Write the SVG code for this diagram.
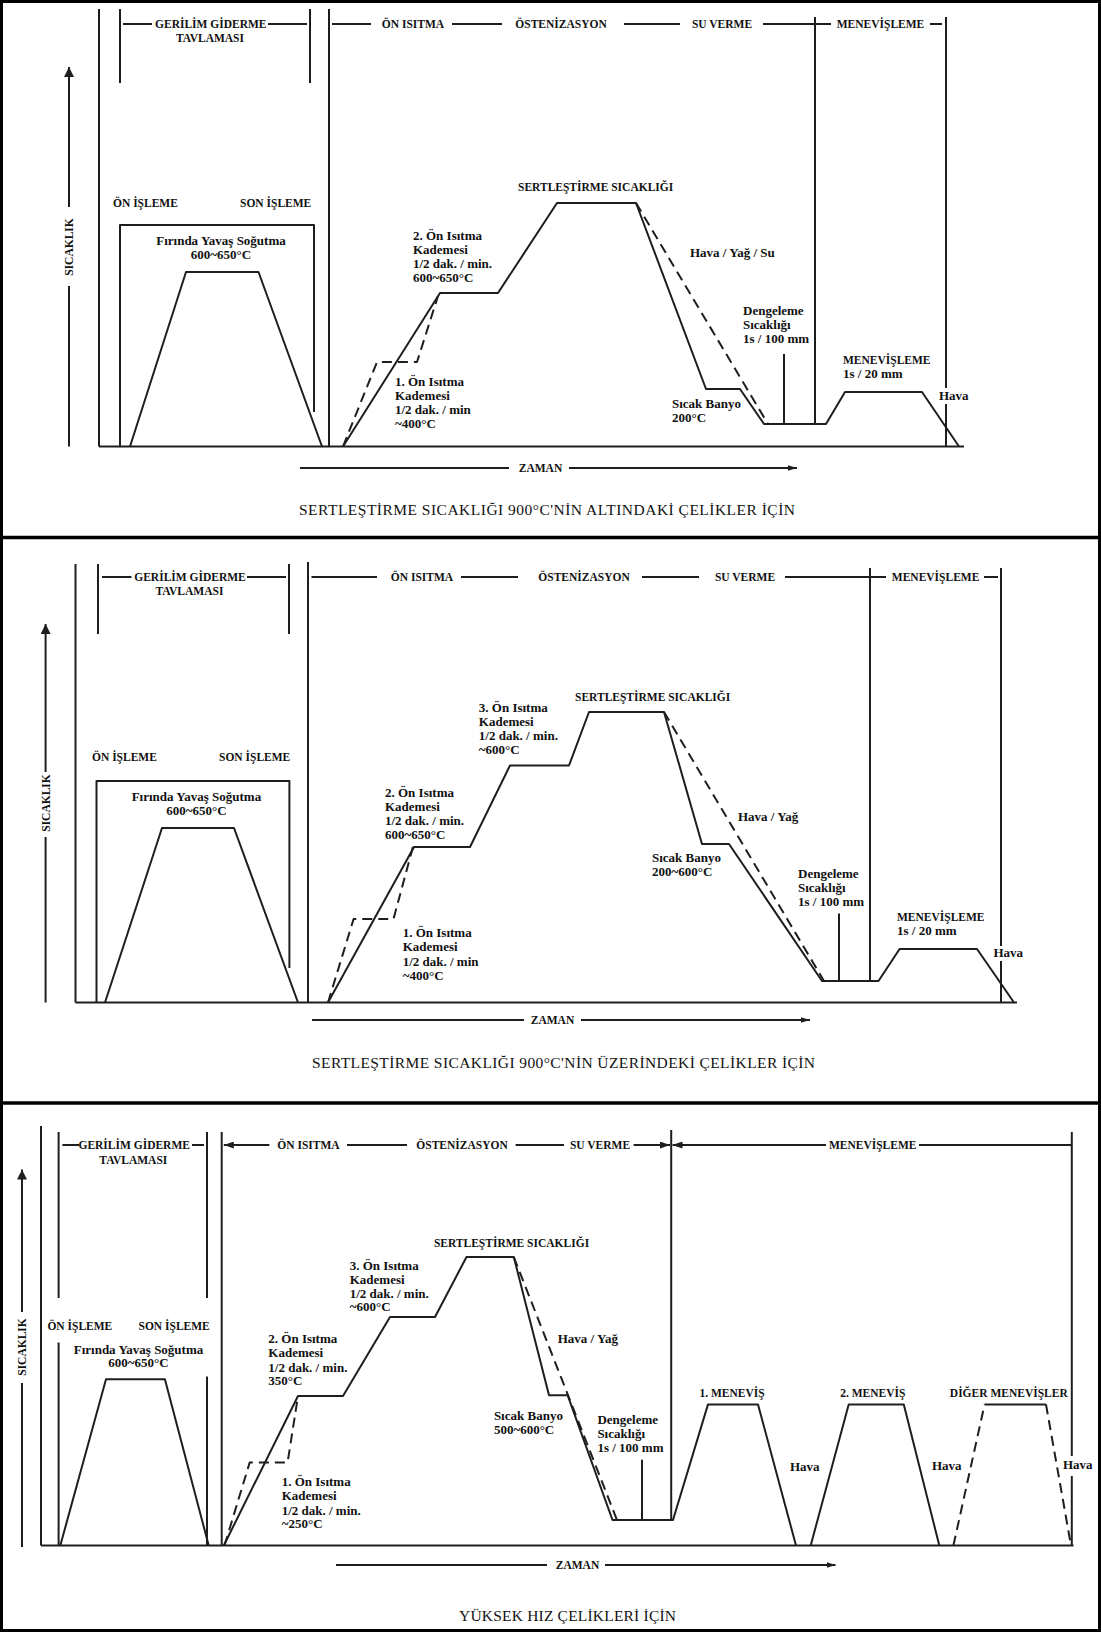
<svg xmlns="http://www.w3.org/2000/svg" width="1101" height="1632" viewBox="0 0 1101 1632">
<style>
.ln{stroke:#1e1e1e;stroke-width:2;fill:none;stroke-linejoin:round}
.ds{stroke-dasharray:10 6}
.h{font-family:'Liberation Serif',serif;font-weight:bold;font-size:11.5px;fill:#111}
.a{font-family:'Liberation Serif',serif;font-weight:bold;font-size:13px;fill:#111}
.cap{font-family:'Liberation Serif',serif;font-size:15.5px;fill:#111}
.m{text-anchor:middle}
</style>
<defs>
<marker id="ay" viewBox="0 0 10 10" refX="10" refY="5" markerWidth="10" markerHeight="10" markerUnits="userSpaceOnUse" orient="auto"><path d="M0,0 L10,5 L0,10 z" fill="#1e1e1e"/></marker>
<marker id="az" viewBox="0 0 10 10" refX="10" refY="5" markerWidth="9" markerHeight="7" markerUnits="userSpaceOnUse" orient="auto" preserveAspectRatio="none"><path d="M0,1 L10,5 L0,9 z" fill="#1e1e1e"/></marker>
<marker id="ah" viewBox="0 0 10 10" refX="10" refY="5" markerWidth="10" markerHeight="7" markerUnits="userSpaceOnUse" orient="auto-start-reverse" preserveAspectRatio="none"><path d="M0,0 L10,5 L0,10 z" fill="#1e1e1e"/></marker>
</defs>
<rect x="0" y="0" width="1101" height="1632" fill="#fff"/>
<g id="frame" fill="none" stroke="#000">
<rect x="1.5" y="1.5" width="1098" height="1629" stroke-width="3"/>
<path d="M0 537.5 H1101" stroke-width="3.5"/>
<path d="M0 1103 H1101" stroke-width="3.5"/>
</g>

<g id="panel1">
<g id="p1-lines" class="ln">
<path d="M99 9 V446.5 M120 9 V83 M310 9 V83 M329 9 V446.5"/>
<path d="M123 24 H152 M268 24 H307 M332 24 H371 M452 24 H502 M624 24 H680 M763 24 H831 M930 24 H942"/>
<path d="M815 17 V424 M946 17 V388 M946 404 V446.5"/>
<path d="M69 446.5 V286 M69 207 V67" marker-end="url(#ay)"/>
<path d="M99 446.5 H964"/>
<path d="M120 446.5 V225 H314 V412"/>
<path d="M130 446.5 L186 272 H258.5 L322 446.5"/>
<path d="M343 446.5 L440 293 H498 L557 203 H636 L706 389 H740 L764 424 H826 L845 392 H922 L959 446.5"/>
<path class="ds" d="M343 446.5 L377 362 H417 L438 296"/>
<path class="ds" d="M636 203 L768 424"/>
<path d="M784 354 V424"/>
<path d="M300 468 H509"/>
<path d="M569 468 H797" marker-end="url(#az)"/>
</g>
<g id="p1-text">
<text class="h m" x="210.8" y="28">GERİLİM GİDERME</text>
<text class="h m" x="210" y="41.5">TAVLAMASI</text>
<text class="h m" x="413" y="28">ÖN ISITMA</text>
<text class="h m" x="561" y="28">ÖSTENİZASYON</text>
<text class="h m" x="722" y="28">SU VERME</text>
<text class="h m" x="880.5" y="28">MENEVİŞLEME</text>
<text class="h m" transform="translate(73,247) rotate(-90)">SICAKLIK</text>
<text class="h" x="113" y="206.5">ÖN İŞLEME</text>
<text class="h" x="240" y="206.5">SON İŞLEME</text>
<text class="a m" x="221" y="244.5">Fırında Yavaş Soğutma</text>
<text class="a m" x="221" y="258.5">600~650°C</text>
<text class="a" x="413" y="239.5">2. Ön Isıtma</text>
<text class="a" x="413" y="254">Kademesi</text>
<text class="a" x="413" y="268">1/2 dak. / min.</text>
<text class="a" x="413" y="282">600~650°C</text>
<text class="a" x="395" y="386">1. Ön Isıtma</text>
<text class="a" x="395" y="400">Kademesi</text>
<text class="a" x="395" y="414">1/2 dak. / min</text>
<text class="a" x="395" y="428">~400°C</text>
<text class="h" x="518" y="191">SERTLEŞTİRME SICAKLIĞI</text>
<text class="a" x="690" y="257">Hava / Yağ / Su</text>
<text class="a" x="743" y="315">Dengeleme</text>
<text class="a" x="743" y="329">Sıcaklığı</text>
<text class="a" x="743" y="343">1s / 100 mm</text>
<text class="h" x="843" y="364">MENEVİŞLEME</text>
<text class="a" x="843" y="378">1s / 20 mm</text>
<text class="a" x="939" y="400">Hava</text>
<text class="a" x="672" y="408">Sıcak Banyo</text>
<text class="a" x="672" y="422">200°C</text>
<text class="h m" x="540.5" y="472">ZAMAN</text>
<text class="cap" x="299" y="515" textLength="496" lengthAdjust="spacing">SERTLEŞTİRME SICAKLIĞI 900°C'NİN ALTINDAKİ ÇELİKLER İÇİN</text>
</g>
</g>

<g id="panel2">
<g id="p2-lines" class="ln">
<path d="M75.5 564 V1002.5 M98 564 V634 M289 564 V634 M308 562 V1002.5"/>
<path d="M102 577 H131.5 M247 577 H286 M311.5 577 H377 M461 577 H518 M642 577 H699 M785 577 H886 M984 577 H998"/>
<path d="M870 568 V981 M1001 568 V946 M1001 961 V1002.5"/>
<path d="M45.6 1002.5 V837 M45.6 772 V624" marker-end="url(#ay)"/>
<path d="M75.5 1002.5 H1017"/>
<path d="M96.5 1002.5 V781 H289.4 V968"/>
<path d="M105 1002.5 L162 828 H234 L298 1002.5"/>
<path d="M328 1002.5 L414 847 H470 L510 765.5 H569 L589 712 H664 L702 844 H729 L822 981 H878.5 L899.6 949 H977 L1014 1002.5"/>
<path class="ds" d="M328 1002.5 L353.6 919 H393.5 L414 843"/>
<path class="ds" d="M664 712 L824 981"/>
<path d="M839 913.5 V981"/>
<path d="M312 1020 H524"/>
<path d="M581 1020 H810" marker-end="url(#az)"/>
</g>
<g id="p2-text">
<text class="h m" x="190" y="581">GERİLİM GİDERME</text>
<text class="h m" x="189.4" y="595">TAVLAMASI</text>
<text class="h m" x="422" y="581">ÖN ISITMA</text>
<text class="h m" x="584" y="581">ÖSTENİZASYON</text>
<text class="h m" x="745" y="581">SU VERME</text>
<text class="h m" x="935.6" y="581">MENEVİŞLEME</text>
<text class="h m" transform="translate(49.6,803) rotate(-90)">SICAKLIK</text>
<text class="h" x="92" y="761">ÖN İŞLEME</text>
<text class="h" x="219" y="761">SON İŞLEME</text>
<text class="a m" x="196.4" y="801">Fırında Yavaş Soğutma</text>
<text class="a m" x="196.4" y="814.5">600~650°C</text>
<text class="a" x="478.8" y="712">3. Ön Isıtma</text>
<text class="a" x="478.8" y="726">Kademesi</text>
<text class="a" x="478.8" y="740">1/2 dak. / min.</text>
<text class="a" x="478.8" y="754">~600°C</text>
<text class="a" x="385" y="796.5">2. Ön Isıtma</text>
<text class="a" x="385" y="811">Kademesi</text>
<text class="a" x="385" y="825">1/2 dak. / min.</text>
<text class="a" x="385" y="839">600~650°C</text>
<text class="a" x="402.7" y="936.5">1. Ön Isıtma</text>
<text class="a" x="402.7" y="951">Kademesi</text>
<text class="a" x="402.7" y="965.5">1/2 dak. / min</text>
<text class="a" x="402.7" y="980">~400°C</text>
<text class="h" x="575" y="701">SERTLEŞTİRME SICAKLIĞI</text>
<text class="a" x="738" y="821">Hava / Yağ</text>
<text class="a" x="652" y="861.5">Sıcak Banyo</text>
<text class="a" x="652" y="875.5">200~600°C</text>
<text class="a" x="798" y="878">Dengeleme</text>
<text class="a" x="798" y="892">Sıcaklığı</text>
<text class="a" x="798" y="906">1s / 100 mm</text>
<text class="h" x="897" y="921">MENEVİŞLEME</text>
<text class="a" x="897" y="935">1s / 20 mm</text>
<text class="a" x="993.4" y="957">Hava</text>
<text class="h m" x="552.5" y="1024">ZAMAN</text>
<text class="cap" x="312" y="1068" textLength="503" lengthAdjust="spacing">SERTLEŞTİRME SICAKLIĞI 900°C'NİN ÜZERİNDEKİ ÇELİKLER İÇİN</text>
</g>
</g>

<g id="panel3">
<g id="p3-lines" class="ln">
<path d="M41 1126 V1545.5 M58.6 1132 V1298 M58.6 1342.6 V1545.5 M207 1132 V1298 M207 1376.5 V1545.5 M221.7 1132 V1545.5"/>
<path d="M62.4 1145 H79 M192 1145 H204 M347 1145 H407 M515.6 1145 H564 M919 1145 H1071.8"/>
<path d="M223.8 1145 H269.4" marker-start="url(#ah)"/>
<path d="M633.6 1145 H670" marker-end="url(#ah)"/>
<path d="M672.5 1145 H826" marker-start="url(#ah)"/>
<path d="M671.2 1130 V1520 M1071.8 1132 V1456 M1071.8 1476 V1545.5"/>
<path d="M22 1547 V1383 M22 1312 V1169.6" marker-end="url(#ay)"/>
<path d="M41 1545.5 H1073.5"/>
<path d="M60.3 1545.5 L106 1379.3 H164.9 L208.7 1545.5"/>
<path d="M223.8 1545.5 L298 1396 H343 L390 1317 H435 L466.5 1257 H513.8 L549 1395.2 H567.6 L612.5 1520 H673 L708 1404.4 H758 L796 1545.5"/>
<path d="M810.7 1545.5 L848.7 1404.4 H903.8 L939.3 1545.5"/>
<path class="ds" d="M953.4 1545.5 L984.6 1404.4"/>
<path d="M984.6 1404.4 H1046"/>
<path class="ds" d="M1046 1404.4 L1071 1545.5"/>
<path class="ds" d="M224.5 1545.5 L249.7 1462.4 H287.6 L298 1396"/>
<path class="ds" d="M513.8 1257 L617 1520"/>
<path d="M642 1459.7 V1520"/>
<path d="M336 1565 H547"/>
<path d="M605 1565 H835.5" marker-end="url(#az)"/>
</g>
<g id="p3-text">
<text class="h m" x="134.2" y="1149">GERİLİM GİDERME</text>
<text class="h m" x="133.3" y="1163.5">TAVLAMASI</text>
<text class="h m" x="308.5" y="1149">ÖN ISITMA</text>
<text class="h m" x="462" y="1149">ÖSTENİZASYON</text>
<text class="h m" x="600" y="1149">SU VERME</text>
<text class="h m" x="872.7" y="1149">MENEVİŞLEME</text>
<text class="h m" transform="translate(26,1347) rotate(-90)">SICAKLIK</text>
<text class="h" x="47.4" y="1330">ÖN İŞLEME</text>
<text class="h" x="138.5" y="1330">SON İŞLEME</text>
<text class="a m" x="138.5" y="1353.5">Fırında Yavaş Soğutma</text>
<text class="a m" x="138.5" y="1367">600~650°C</text>
<text class="a" x="349.7" y="1269.7">3. Ön Isıtma</text>
<text class="a" x="349.7" y="1283.5">Kademesi</text>
<text class="a" x="349.7" y="1297.8">1/2 dak. / min.</text>
<text class="a" x="349.7" y="1311.4">~600°C</text>
<text class="a" x="268.3" y="1343.3">2. Ön Isıtma</text>
<text class="a" x="268.3" y="1357">Kademesi</text>
<text class="a" x="268.3" y="1371.5">1/2 dak. / min.</text>
<text class="a" x="268.3" y="1385">350°C</text>
<text class="a" x="281.7" y="1486">1. Ön Isıtma</text>
<text class="a" x="281.7" y="1500">Kademesi</text>
<text class="a" x="281.7" y="1514.7">1/2 dak. / min.</text>
<text class="a" x="281.7" y="1528.2">~250°C</text>
<text class="h" x="433.9" y="1247">SERTLEŞTİRME SICAKLIĞI</text>
<text class="a" x="557.7" y="1342.6">Hava / Yağ</text>
<text class="a" x="493.9" y="1420">Sıcak Banyo</text>
<text class="a" x="493.9" y="1433.6">500~600°C</text>
<text class="a" x="597.4" y="1424">Dengeleme</text>
<text class="a" x="597.4" y="1438.3">Sıcaklığı</text>
<text class="a" x="597.4" y="1452">1s / 100 mm</text>
<text class="h m" x="732" y="1397">1. MENEVİŞ</text>
<text class="h m" x="872.8" y="1397">2. MENEVİŞ</text>
<text class="h m" x="1008.8" y="1397">DİĞER MENEVİŞLER</text>
<text class="a" x="790" y="1471">Hava</text>
<text class="a" x="932" y="1470">Hava</text>
<text class="a" x="1063" y="1469">Hava</text>
<text class="h m" x="577.5" y="1569">ZAMAN</text>
<text class="cap" x="459" y="1621" textLength="217" lengthAdjust="spacing">YÜKSEK HIZ ÇELİKLERİ İÇİN</text>
</g>
</g>
</svg>
